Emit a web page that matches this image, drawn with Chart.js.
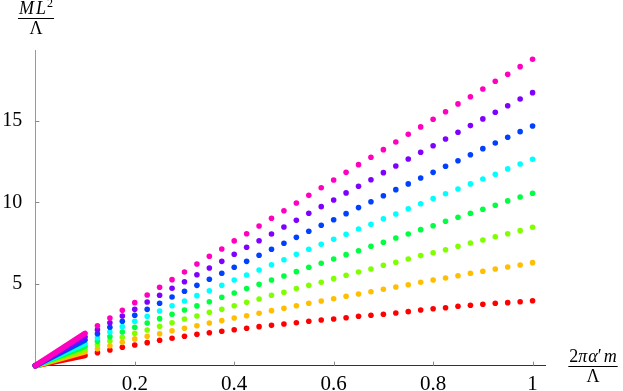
<!DOCTYPE html>
<html>
<head>
<meta charset="utf-8">
<script src="https://cdn.jsdelivr.net/npm/chart.js@4.4.1/dist/chart.umd.min.js"></script>
<style>
  html, body { margin: 0; padding: 0; background: #fff; }
  canvas { display: block; }
</style>
</head>
<body>
<canvas id="spectrum" width="623" height="391"></canvas>
<script>
// x positions of the dots (2 pi alpha' m / Lambda)
var xs = [0.125, 0.15, 0.175, 0.2, 0.225, 0.25, 0.275, 0.3, 0.325, 0.35, 0.375, 0.4,
  0.425, 0.45, 0.475, 0.5, 0.525, 0.55, 0.575, 0.6, 0.625, 0.65, 0.675, 0.7,
  0.725, 0.75, 0.775, 0.8, 0.825, 0.85, 0.875, 0.9, 0.925, 0.95, 0.975, 1];

// M L^2 / Lambda, one list per level
var red = [0.80, 0.96, 1.13, 1.27, 1.41, 1.56, 1.68, 1.80, 1.92, 2.02, 2.11, 2.20,
  2.29, 2.39, 2.47, 2.55, 2.63, 2.72, 2.80, 2.86, 2.94, 3.03, 3.09, 3.15,
  3.23, 3.31, 3.41, 3.49, 3.55, 3.64, 3.70, 3.76, 3.82, 3.86, 3.92, 3.98];
var orange = [1.04, 1.22, 1.43, 1.64, 1.80, 1.96, 2.14, 2.29, 2.45, 2.61, 2.76, 2.92,
  3.06, 3.21, 3.37, 3.51, 3.67, 3.82, 3.96, 4.10, 4.25, 4.39, 4.53, 4.68,
  4.82, 4.96, 5.11, 5.25, 5.37, 5.51, 5.66, 5.78, 5.92, 6.04, 6.17, 6.31];
var yellowGreen = [1.27, 1.51, 1.74, 1.98, 2.19, 2.41, 2.63, 2.86, 3.04, 3.27, 3.45, 3.67,
  3.88, 4.08, 4.31, 4.49, 4.72, 4.92, 5.11, 5.33, 5.54, 5.74, 5.92, 6.15,
  6.33, 6.53, 6.74, 6.92, 7.10, 7.31, 7.51, 7.70, 7.90, 8.08, 8.27, 8.48];
var green = [1.49, 1.78, 2.06, 2.35, 2.61, 2.88, 3.15, 3.41, 3.66, 3.92, 4.19, 4.45,
  4.72, 4.98, 5.25, 5.49, 5.76, 6.03, 6.27, 6.53, 6.80, 7.04, 7.31, 7.56,
  7.82, 8.06, 8.33, 8.57, 8.84, 9.09, 9.33, 9.58, 9.82, 10.09, 10.33, 10.56];
var cyan = [1.71, 2.06, 2.39, 2.72, 3.03, 3.35, 3.67, 3.96, 4.29, 4.59, 4.92, 5.25,
  5.55, 5.86, 6.18, 6.49, 6.82, 7.13, 7.43, 7.74, 8.05, 8.37, 8.66, 9.00,
  9.29, 9.61, 9.92, 10.23, 10.53, 10.82, 11.13, 11.43, 11.72, 12.05, 12.35, 12.64];
var blue = [1.96, 2.35, 2.72, 3.09, 3.45, 3.82, 4.21, 4.56, 4.92, 5.29, 5.66, 6.03,
  6.39, 6.76, 7.13, 7.50, 7.86, 8.23, 8.60, 8.94, 9.31, 9.68, 10.04, 10.41,
  10.78, 11.13, 11.49, 11.84, 12.21, 12.55, 12.92, 13.29, 13.64, 13.99, 14.33, 14.68];
var violet = [2.20, 2.63, 3.04, 3.45, 3.90, 4.31, 4.74, 5.14, 5.57, 5.98, 6.39, 6.82,
  7.25, 7.65, 8.06, 8.49, 8.90, 9.33, 9.74, 10.15, 10.58, 10.99, 11.39, 11.82,
  12.23, 12.66, 13.07, 13.47, 13.88, 14.29, 14.70, 15.11, 15.52, 15.92, 16.33, 16.72];
var magenta = [2.45, 2.92, 3.39, 3.86, 4.33, 4.80, 5.27, 5.74, 6.23, 6.70, 7.15, 7.64,
  8.08, 8.55, 9.03, 9.49, 9.96, 10.43, 10.90, 11.37, 11.84, 12.31, 12.76, 13.23,
  13.70, 14.17, 14.62, 15.09, 15.55, 16.03, 16.47, 16.94, 17.42, 17.84, 18.31, 18.76];

// the dense part near the origin: from (0,0) up to x = 0.1
var bandEndX = 0.1;
var bandEnd = [0.63, 0.85, 1.02, 1.19, 1.37, 1.58, 1.78, 1.98]; // red ... magenta

var xTicks = [0.2, 0.4, 0.6, 0.8, 1];
var yTicks = [5, 10, 15];

var levels = [red, orange, yellowGreen, green, cyan, blue, violet, magenta];
var colors = ['#ff0000', '#ffbf00', '#80ff00', '#00ff40', '#00ffff', '#0040ff', '#8000ff', '#ff00bf'];

var datasets = [];
// magenta first so it sits on top, as in the picture
for (var i = levels.length - 1; i >= 0; i--) {
  datasets.push({
    type: 'scatter',
    data: xs.map(function (x, k) { return { x: x, y: levels[i][k] }; }),
    backgroundColor: colors[i],
    borderWidth: 0,
    pointRadius: 2.8,
    pointHoverRadius: 2.8,
    clip: false
  });
}
for (var j = levels.length - 1; j >= 0; j--) {
  datasets.push({
    type: 'line',
    data: [{ x: 0, y: 0 }, { x: bandEndX, y: bandEnd[j] }],
    borderColor: colors[j],
    borderWidth: 5.6,
    borderCapStyle: 'round',
    pointRadius: 0,
    clip: false
  });
}

function drawFraction(ctx, cx, barY, numParts, den) {
  ctx.save();
  ctx.fillStyle = '#000';
  ctx.strokeStyle = '#000';
  var w = 0;
  numParts.forEach(function (p) { ctx.font = p.font; w += ctx.measureText(p.t).width + (p.gap || 0); });
  var x = cx - w / 2;
  ctx.textBaseline = 'alphabetic';
  ctx.textAlign = 'left';
  numParts.forEach(function (p) {
    ctx.font = p.font;
    ctx.fillText(p.t, x, barY - 4 + (p.dy || 0));
    x += ctx.measureText(p.t).width + (p.gap || 0);
  });
  ctx.lineWidth = 1;
  ctx.beginPath();
  ctx.moveTo(cx - w / 2 - 1, barY + 0.5);
  ctx.lineTo(cx + w / 2 + 1, barY + 0.5);
  ctx.stroke();
  ctx.font = '18px "Liberation Serif"';
  ctx.textAlign = 'center';
  ctx.fillText(den, cx, barY + 16);
  ctx.restore();
}

var axisDecor = {
  id: 'axisDecor',
  afterDraw: function (chart) {
    var ctx = chart.ctx;
    var xs_ = chart.scales.x, ys_ = chart.scales.y;
    var area = chart.chartArea;
    ctx.save();
    ctx.strokeStyle = '#888';
    ctx.lineWidth = 1;
    xTicks.forEach(function (v) {
      var px = Math.round(xs_.getPixelForValue(v)) + 0.5;
      ctx.beginPath();
      ctx.moveTo(px, area.bottom);
      ctx.lineTo(px, area.bottom - 4);
      ctx.stroke();
    });
    yTicks.forEach(function (v) {
      var py = Math.round(ys_.getPixelForValue(v)) + 0.5;
      ctx.beginPath();
      ctx.moveTo(area.left, py);
      ctx.lineTo(area.left + 4, py);
      ctx.stroke();
    });
    ctx.restore();

    var it = 'italic 18px "Liberation Serif"';
    drawFraction(ctx, 36, 18, [
      { t: 'M', font: it, gap: 2 },
      { t: 'L', font: it, gap: 1 },
      { t: '2', font: '12px "Liberation Serif"', dy: -7 }
    ], 'Λ');
    drawFraction(ctx, 593, 366, [
      { t: '2', font: '18px "Liberation Serif"' },
      { t: 'π', font: it, gap: 1 },
      { t: 'α', font: it },
      { t: '′', font: '18px "Liberation Serif"', gap: 2 },
      { t: 'm', font: it }
    ], 'Λ');
  }
};

var ctx = document.getElementById('spectrum').getContext('2d');
new Chart(ctx, {
  data: { datasets: datasets },
  options: {
    responsive: false,
    animation: false,
    events: [],
    layout: { padding: { top: 50, right: 78, bottom: 0, left: 0 } },
    plugins: { legend: { display: false }, tooltip: { enabled: false } },
    scales: {
      x: {
        type: 'linear',
        min: 0,
        max: 1.025,
        afterFit: function (s) { s.height = 25.3; },
        afterBuildTicks: function (s) { s.ticks = xTicks.map(function (v) { return { value: v }; }); },
        grid: { display: false, drawTicks: false },
        border: { display: true, color: '#333', width: 1 },
        ticks: {
          padding: 6,
          maxRotation: 0,
          autoSkip: false,
          color: '#000',
          font: { family: 'Liberation Serif', size: 21 },
          callback: function (v) { return String(v); }
        }
      },
      y: {
        type: 'linear',
        min: 0,
        max: 19.33,
        afterFit: function (s) { s.width = 35.3; },
        afterBuildTicks: function (s) { s.ticks = yTicks.map(function (v) { return { value: v }; }); },
        grid: { display: false, drawTicks: false },
        border: { display: true, color: '#999', width: 1 },
        ticks: {
          padding: 13,
          autoSkip: false,
          color: '#000',
          font: { family: 'Liberation Serif', size: 20 },
          callback: function (v) { return String(v); }
        }
      }
    }
  },
  plugins: [axisDecor]
});
</script>
</body>
</html>
